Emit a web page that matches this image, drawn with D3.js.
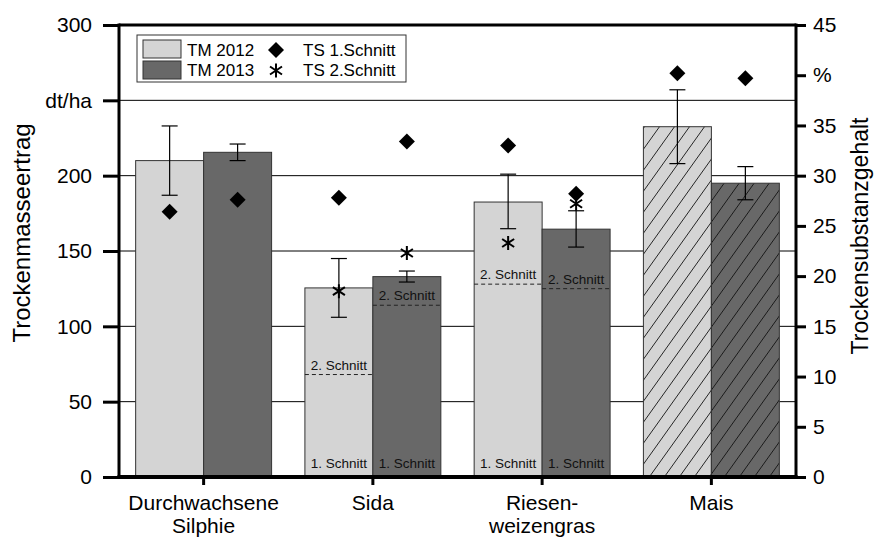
<!DOCTYPE html>
<html>
<head>
<meta charset="utf-8">
<script src="https://cdn.jsdelivr.net/npm/d3@7"></script>
<style>
  body { margin: 0; background: #fff; }
  text { font-family: "Liberation Sans", Arial, sans-serif; fill: #000; }
</style>
</head>
<body>
<div id="chart"></div>
<script>
// data
var categories = ["Durchwachsene Silphie", "Sida", "Riesen- weizengras", "Mais"];
var catLines = [["Durchwachsene", "Silphie"], ["Sida"], ["Riesen-", "weizengras"], ["Mais"]];
var years = ["TM 2012", "TM 2013"];
var tm2012 = [210, 125.5, 182.5, 232.5];
var tm2013 = [215.5, 133, 164.5, 195];
var errLow2012 = [187, 106, 164.8, 208];
var errHigh2012 = [233, 145, 201, 257];
var errLow2013 = [210, 129.4, 152.6, 184];
var errHigh2013 = [221, 136.7, 176.7, 206];
var cut1_2012 = [null, 68, 128, null];   // 1. Schnitt portion
var cut1_2013 = [null, 114, 125, null];
var ts1_2012 = [26.4, 27.8, 33.0, 40.2];
var ts1_2013 = [27.6, 33.4, 28.2, 39.7];
var ts2_2012 = [null, 18.5, 23.3, null];
var ts2_2013 = [null, 22.3, 27.2, null];
var hatched = [false, false, false, true];
var leftTicks = [0, 50, 100, 150, 200, 250, 300];
var rightTicks = [0, 5, 10, 15, 20, 25, 30, 35, 40, 45];

function drawChart() {
    var width = 876, height = 544;
    var mLeft = 119, mRight = 796, mTop = 25, mBottom = 477;
    var colors = ["#d4d4d4", "#686868"];

    var svg = d3.select("#chart").append("svg")
        .attr("width", width)
        .attr("height", height);

    var defs = svg.append("defs");
    colors.forEach(function (c, i) {
        var p = defs.append("pattern")
            .attr("id", "hatch" + i)
            .attr("patternUnits", "userSpaceOnUse")
            .attr("width", 15)
            .attr("height", 21);
        p.append("rect").attr("width", 15).attr("height", 21).attr("fill", c);
        p.append("line").attr("x1", 0).attr("y1", 21).attr("x2", 15).attr("y2", 0)
            .attr("stroke", "#111").attr("stroke-width", 0.9);
        p.append("line").attr("x1", -1).attr("y1", 1.4).attr("x2", 1).attr("y2", -1.4)
            .attr("stroke", "#111").attr("stroke-width", 0.9);
        p.append("line").attr("x1", 14).attr("y1", 22.4).attr("x2", 16).attr("y2", 19.6)
            .attr("stroke", "#111").attr("stroke-width", 0.9);
    });

    var x = d3.scaleBand().domain(categories).range([mLeft, mRight]).padding(0);
    var xSub = d3.scaleBand().domain(years).range([0, x.bandwidth()]).paddingInner(0).paddingOuter(0.245);
    var y = d3.scaleLinear().domain([0, 300]).range([mBottom, mTop]);
    var y2 = d3.scaleLinear().domain([0, 45]).range([mBottom, mTop]);

    // gridlines
    svg.append("g").selectAll("line")
        .data([50, 100, 150, 200, 250])
        .enter().append("line")
        .attr("x1", mLeft).attr("x2", mRight)
        .attr("y1", function (d) { return y(d); })
        .attr("y2", function (d) { return y(d); })
        .attr("stroke", "#000").attr("stroke-width", 1);

    var series = [
        { key: "TM 2012", tm: tm2012, lo: errLow2012, hi: errHigh2012, cut: cut1_2012, ts1: ts1_2012, ts2: ts2_2012 },
        { key: "TM 2013", tm: tm2013, lo: errLow2013, hi: errHigh2013, cut: cut1_2013, ts1: ts1_2013, ts2: ts2_2013 }
    ];

    var bw = xSub.bandwidth();

    series.forEach(function (s, si) {
        var g = svg.append("g");
        categories.forEach(function (c, ci) {
            var bx = x(c) + xSub(s.key);
            var cx = bx + bw / 2;
            g.append("rect")
                .attr("x", bx).attr("y", y(s.tm[ci]))
                .attr("width", bw).attr("height", y(0) - y(s.tm[ci]))
                .attr("fill", hatched[ci] ? "url(#hatch" + si + ")" : colors[si])
                .attr("stroke", "#333").attr("stroke-width", 1);

            if (s.cut[ci] != null) {
                g.append("line")
                    .attr("x1", bx).attr("x2", bx + bw)
                    .attr("y1", y(s.cut[ci])).attr("y2", y(s.cut[ci]))
                    .attr("stroke", "#222").attr("stroke-width", 1)
                    .attr("stroke-dasharray", "4,3");
                g.append("text")
                    .attr("x", cx).attr("y", y(s.cut[ci]) - 5)
                    .attr("text-anchor", "middle")
                    .style("font-size", "13.5px")
                    .style("fill", "#111")
                    .text("2. Schnitt");
                g.append("text")
                    .attr("x", cx).attr("y", y(0) - 9)
                    .attr("text-anchor", "middle")
                    .style("font-size", "13.5px")
                    .style("fill", "#111")
                    .text("1. Schnitt");
            }

            // error bar
            g.append("line")
                .attr("x1", cx).attr("x2", cx)
                .attr("y1", y(s.lo[ci])).attr("y2", y(s.hi[ci]))
                .attr("stroke", "#000").attr("stroke-width", 1.2);
            [s.lo[ci], s.hi[ci]].forEach(function (v) {
                g.append("line")
                    .attr("x1", cx - 8).attr("x2", cx + 8)
                    .attr("y1", y(v)).attr("y2", y(v))
                    .attr("stroke", "#000").attr("stroke-width", 1.2);
            });
        });
    });

    // TS markers on the right scale
    var diamond = d3.symbol().type(d3.symbolSquare).size(128);
    function asterisk(g, cx, cy) {
        var r = 7;
        g.append("path")
            .attr("d", "M" + cx + "," + (cy - r) + "L" + cx + "," + (cy + r) +
                "M" + (cx - 6) + "," + (cy - 4) + "L" + (cx + 6) + "," + (cy + 4) +
                "M" + (cx - 6) + "," + (cy + 4) + "L" + (cx + 6) + "," + (cy - 4))
            .attr("stroke", "#000").attr("stroke-width", 2).attr("fill", "none");
    }

    var marks = svg.append("g");
    series.forEach(function (s) {
        categories.forEach(function (c, ci) {
            var cx = x(c) + xSub(s.key) + bw / 2;
            if (s.ts2[ci] != null) asterisk(marks, cx, y2(s.ts2[ci]));
            marks.append("path")
                .attr("d", diamond())
                .attr("transform", "translate(" + cx + "," + y2(s.ts1[ci]) + ") rotate(45)")
                .attr("fill", "#000");
        });
    });

    // axes
    var axL = svg.append("g")
        .attr("transform", "translate(" + mLeft + ",0)")
        .call(d3.axisLeft(y).tickValues(leftTicks).tickSize(16).tickPadding(11)
            .tickFormat(function (d) { return d === 250 ? "dt/ha" : d; }));
    var axR = svg.append("g")
        .attr("transform", "translate(" + mRight + ",0)")
        .call(d3.axisRight(y2).tickValues(rightTicks).tickSize(10).tickPadding(7)
            .tickFormat(function (d) { return d === 40 ? "%" : d; }));
    var axB = svg.append("g")
        .attr("transform", "translate(0," + mBottom + ")")
        .call(d3.axisBottom(x).tickSize(8).tickFormat(""));

    [axL, axR, axB].forEach(function (a) {
        a.select(".domain").remove();
        a.selectAll(".tick line").attr("stroke", "#000").attr("stroke-width", 3);
        a.selectAll(".tick text").style("font-size", "21px")
            .style("font-family", '"Liberation Sans", Arial, sans-serif').attr("fill", "#000");
    });

    // frame lines
    svg.append("line").attr("x1", mLeft).attr("x2", mLeft).attr("y1", mTop - 1.5).attr("y2", mBottom + 2)
        .attr("stroke", "#000").attr("stroke-width", 3);
    svg.append("line").attr("x1", mRight).attr("x2", mRight).attr("y1", mTop - 1.5).attr("y2", mBottom + 2)
        .attr("stroke", "#000").attr("stroke-width", 3);
    svg.append("line").attr("x1", mLeft).attr("x2", mRight).attr("y1", mTop).attr("y2", mTop)
        .attr("stroke", "#000").attr("stroke-width", 3);
    svg.append("line").attr("x1", mLeft - 1.5).attr("x2", mRight + 1.5).attr("y1", mBottom).attr("y2", mBottom)
        .attr("stroke", "#000").attr("stroke-width", 4);

    // category labels
    categories.forEach(function (c, ci) {
        var t = svg.append("text")
            .attr("x", x(c) + x.bandwidth() / 2)
            .attr("y", 510)
            .attr("text-anchor", "middle")
            .style("font-size", "21px");
        catLines[ci].forEach(function (line, li) {
            t.append("tspan")
                .attr("x", x(c) + x.bandwidth() / 2)
                .attr("dy", li === 0 ? 0 : 23)
                .text(line);
        });
    });

    // axis titles
    svg.append("text")
        .attr("transform", "translate(30,233) rotate(-90)")
        .attr("text-anchor", "middle")
        .style("font-size", "24px")
        .text("Trockenmasseertrag");
    svg.append("text")
        .attr("transform", "translate(868,236) rotate(-90)")
        .attr("text-anchor", "middle")
        .style("font-size", "23px")
        .text("Trockensubstanzgehalt");

    // legend
    var lg = svg.append("g");
    lg.append("rect")
        .attr("x", 137).attr("y", 35).attr("width", 269).attr("height", 47)
        .attr("fill", "#fff").attr("stroke", "#333").attr("stroke-width", 1);
    years.forEach(function (k, i) {
        lg.append("rect")
            .attr("x", 143).attr("y", 40 + i * 21)
            .attr("width", 38).attr("height", 18)
            .attr("fill", colors[i]).attr("stroke", "#333").attr("stroke-width", 1);
        lg.append("text")
            .attr("x", 187).attr("y", 56 + i * 20)
            .style("font-size", "17px")
            .text(k);
    });
    lg.append("path")
        .attr("d", diamond())
        .attr("transform", "translate(276,50) rotate(45)")
        .attr("fill", "#000");
    asterisk(lg, 276, 70.5);
    lg.append("text").attr("x", 303).attr("y", 56).style("font-size", "17px").text("TS 1.Schnitt");
    lg.append("text").attr("x", 303).attr("y", 76).style("font-size", "17px").text("TS 2.Schnitt");
}

drawChart();
</script>
</body>
</html>
